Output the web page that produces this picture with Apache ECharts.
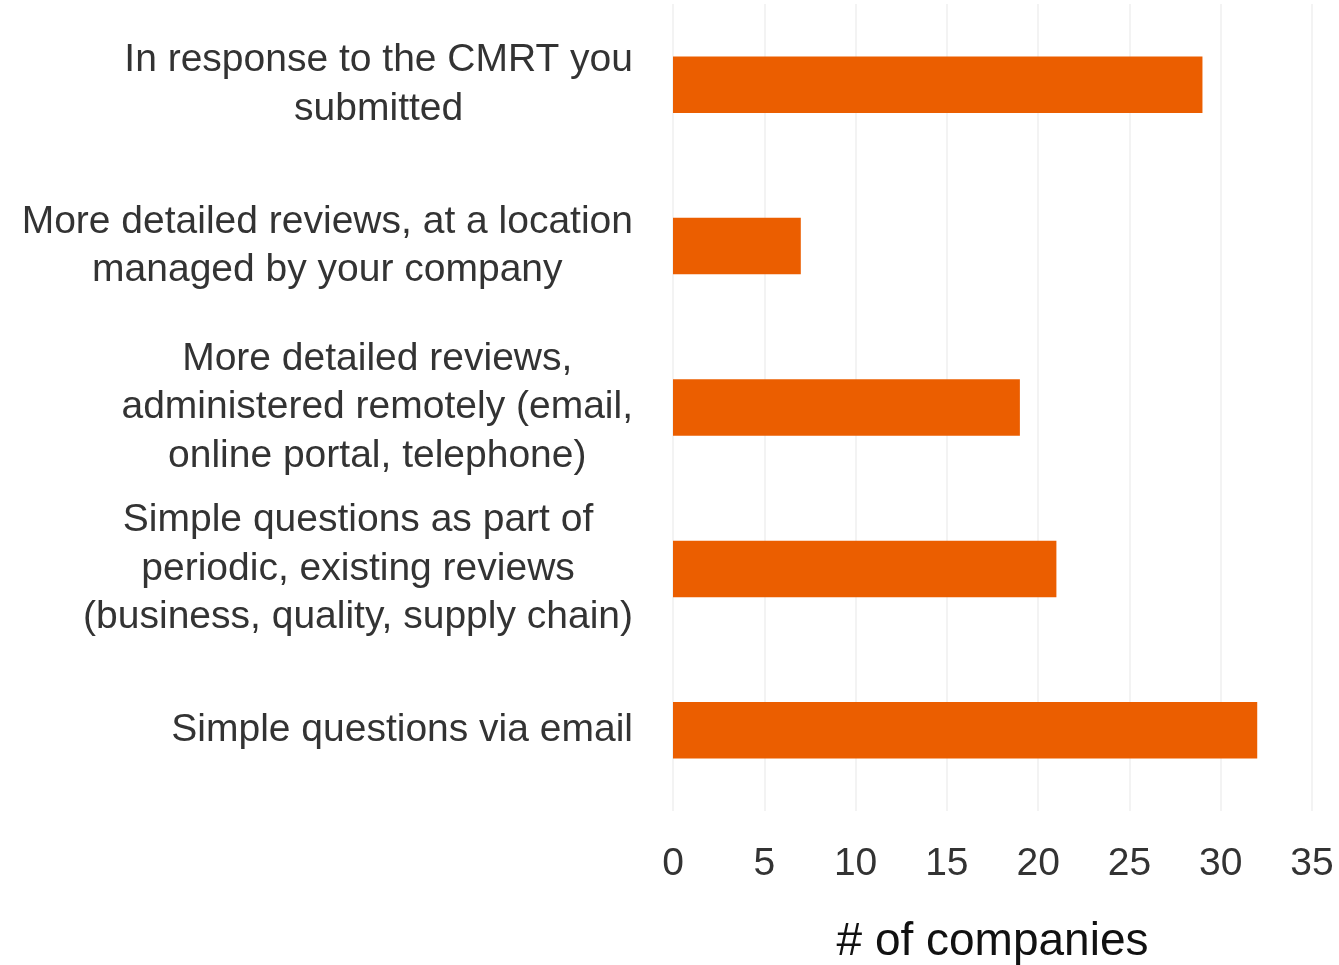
<!DOCTYPE html>
<html>
<head>
<meta charset="utf-8">
<style>
  html, body { margin: 0; padding: 0; background: #fff; }
  #chart { width: 1339px; height: 965px; }
</style>
<script src="https://cdn.jsdelivr.net/npm/echarts@6/dist/echarts.min.js"></script>
</head>
<body>
<div id="chart"></div>
<script>
// categories, top to bottom
const categories = [
  'In response to the CMRT you\nsubmitted',
  'More detailed reviews, at a location\nmanaged by your company',
  'More detailed reviews,\nadministered remotely (email,\nonline portal, telephone)',
  'Simple questions as part of\nperiodic, existing reviews\n(business, quality, supply chain)',
  'Simple questions via email'
]
const companies = [29, 7, 19, 21, 32]

const textColor = '#333333'
const fontFamily = '"Liberation Sans", Arial, Helvetica, sans-serif'

const chart = echarts.init(document.getElementById('chart'))

chart.setOption({
  animation: false,
  grid: {
    left: 673,
    right: 27,
    top: 4,
    bottom: 154,
    outerBoundsMode: 'none'
  },
  xAxis: {
    type: 'value',
    min: 0,
    max: 35,
    interval: 5,
    name: '# of companies',
    nameLocation: 'middle',
    nameGap: 108,
    nameTextStyle: {
      fontSize: 46,
      color: '#111',
      fontFamily: fontFamily
    },
    axisLine: { show: false },
    axisTick: { show: false },
    axisLabel: {
      margin: 34,
      fontSize: 39,
      color: textColor,
      fontFamily: fontFamily
    },
    splitLine: {
      lineStyle: { color: '#f3f3f3', width: 2 }
    }
  },
  yAxis: {
    type: 'category',
    inverse: true,
    data: categories,
    axisLine: { show: false },
    axisTick: { show: false },
    axisLabel: {
      margin: 40,
      align: 'right',
      // center each line inside the right-aligned block
      formatter: (v) => v.split('\n').map((s) => '{c|' + s + '}').join('\n'),
      rich: {
        c: {
          align: 'center',
          fontSize: 39,
          lineHeight: 48.5,
          color: textColor,
          fontFamily: fontFamily
        }
      }
    }
  },
  series: [
    {
      type: 'bar',
      data: companies,
      barWidth: '35%',
      itemStyle: { color: '#EB5E00' }
    }
  ]
})
</script>
</body>
</html>
